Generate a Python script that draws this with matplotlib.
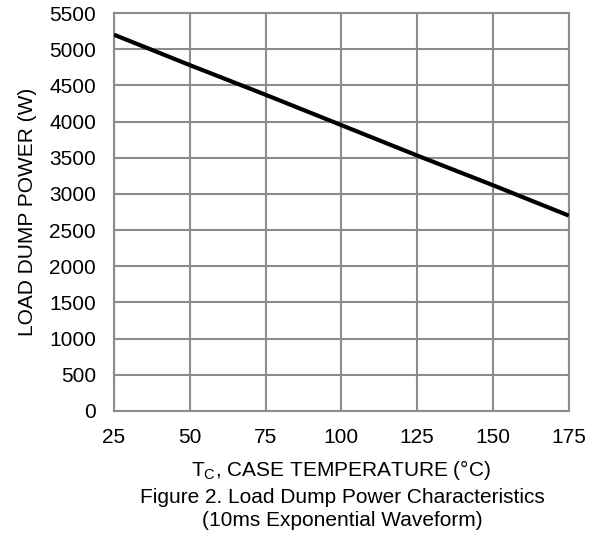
import matplotlib
matplotlib.use("Agg")
import matplotlib.pyplot as plt

plt.rcParams["font.family"] = ["Liberation Sans", "DejaVu Sans"]

case_temp = [25, 50, 75, 100, 125, 150, 175]
load_dump_power = [5200, 4780, 4370, 3950, 3530, 3120, 2700]

x_ticks = [25, 50, 75, 100, 125, 150, 175]
y_ticks = list(range(0, 5501, 500))

grid_color = "#8c8c8c"
fs = 15

fig = plt.figure(figsize=(6.0, 5.35), dpi=100)
ax = fig.add_axes([0.19, 0.2318, 0.758, 0.7439])

ax.plot(case_temp, load_dump_power, color="black", linewidth=3.0, solid_capstyle="butt", zorder=3)

ax.set_xlim(25, 175)
ax.set_ylim(0, 5500)
ax.set_xticks(x_ticks)
ax.set_yticks(y_ticks)
ax.tick_params(length=0, labelsize=fs)
ax.tick_params(axis="x", pad=12)
ax.tick_params(axis="y", pad=13)
ax.grid(True, color=grid_color, linewidth=1.5)
ax.set_axisbelow(True)
for spine in ax.spines.values():
    spine.set_color(grid_color)
    spine.set_linewidth(1.5)

ax.set_ylabel("LOAD DUMP POWER (W)", fontsize=fs, labelpad=9)
ax.set_xlabel("T$_\\mathregular{C}$, CASE TEMPERATURE (°C)", fontsize=fs, labelpad=8)

fig.text(0.571, 0.071, "Figure 2. Load Dump Power Characteristics", ha="center", va="center", fontsize=fs)
fig.text(0.571, 0.028, "(10ms Exponential Waveform)", ha="center", va="center", fontsize=fs)

fig.savefig("out.png", dpi=100)
